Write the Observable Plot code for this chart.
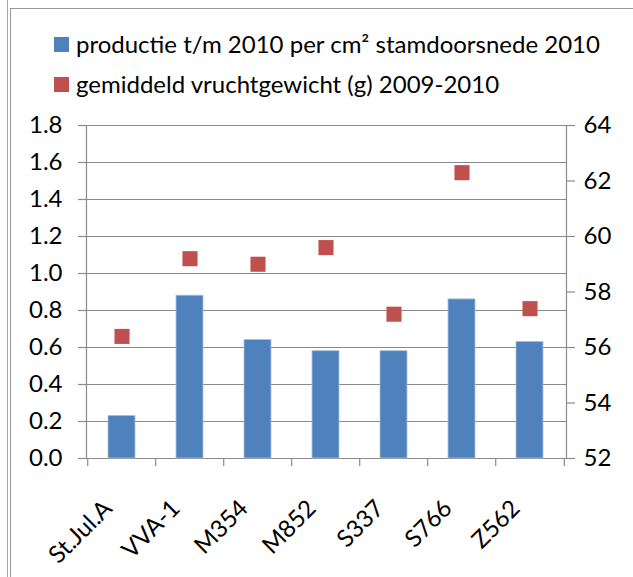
<!DOCTYPE html>
<html>
<head>
<meta charset="utf-8">
<script src="https://cdn.jsdelivr.net/npm/d3@7"></script>
<script src="https://cdn.jsdelivr.net/npm/@observablehq/plot@0.6"></script>
<style>
  html, body { margin: 0; padding: 0; background: #fff; }
  #wrap { position: relative; width: 633px; height: 577px; overflow: hidden; font-family: Lato, sans-serif; color: #000; }
  .vline { position: absolute; left: 7px; top: 0; width: 1px; height: 577px; background: #a6a6a6; }
  .box { position: absolute; left: 10px; top: 8px; width: 700px; height: 700px; border-left: 1px solid #999; border-top: 1px solid #999; }
  #legend { position: absolute; left: 0; top: 0; width: 633px; height: 100px; }
  .sw { position: absolute; width: 15px; height: 15px; }
  .lt { position: absolute; font-size: 24px; line-height: 24px; white-space: nowrap; }
  #chart { position: absolute; left: 0; top: 100px; }
  #chart svg { font-family: Lato, sans-serif; }
</style>
</head>
<body>
<div id="wrap">
  <div class="vline"></div>
  <div class="box"></div>
  <div id="legend"></div>
  <div id="chart"></div>
</div>
<script>
// ---- data ----
const categories = ["St.Jul.A", "VVA-1", "M354", "M852", "S337", "S766", "Z562"];
const production = [0.23, 0.88, 0.64, 0.58, 0.58, 0.86, 0.63];
const fruitWeight = [56.4, 59.2, 59.0, 59.6, 57.2, 62.3, 57.4];
const seriesNames = ["productie t/m 2010 per cm² stamdoorsnede 2010", "gemiddeld vruchtgewicht (g) 2009-2010"];
const leftTicks = [0, 0.2, 0.4, 0.6, 0.8, 1.0, 1.2, 1.4, 1.6, 1.8];
const rightTicks = [52, 54, 56, 58, 60, 62, 64];

const colors = ["#4F81BD", "#C0504D"];
const gray = "#8a8a8a";
const leftMax = 1.8, rMin = 52, rMax = 64;
const toLeft = v => (v - rMin) / (rMax - rMin) * leftMax;

const data = categories.map((c, i) => ({cat: c, prod: production[i], weight: fruitWeight[i]}));

// ---- legend ----
const legend = document.getElementById("legend");
seriesNames.forEach((name, i) => {
  const sw = document.createElement("div");
  sw.className = "sw";
  sw.style.left = "54px";
  sw.style.top = (37 + i * 40) + "px";
  sw.style.background = colors[i];
  legend.appendChild(sw);
  const t = document.createElement("div");
  t.className = "lt";
  t.style.left = "76px";
  t.style.top = (32 + i * 40) + "px";
  t.textContent = name;
  legend.appendChild(t);
});

// ---- chart ----
const W = 633, H = 477;
const mL = 86, mR = 67, mT = 25, mB = 119;
const step = (W - mL - mR) / categories.length;

const plot = Plot.plot({
  width: W,
  height: H,
  marginLeft: mL,
  marginRight: mR,
  marginTop: mT,
  marginBottom: mB,
  style: {fontSize: "24px", fontFamily: "Lato, sans-serif", color: "#000", background: "transparent"},
  x: {domain: categories, paddingInner: 0.6, paddingOuter: 0.3, axis: null, label: null},
  y: {domain: [0, leftMax], axis: null, label: null},
  marks: [
    Plot.gridY(leftTicks, {stroke: gray, strokeOpacity: 1, strokeWidth: 1.2}),
    Plot.frame({anchor: "left", stroke: gray, strokeWidth: 1.2}),
    Plot.frame({anchor: "right", stroke: gray, strokeWidth: 1.2}),
    // category-boundary tick marks below the axis
    Plot.axisX({tickSize: 8, tickFormat: () => "", label: null, stroke: gray, strokeWidth: 1.2, dx: -step / 2}),
    Plot.axisX({ticks: [categories[categories.length - 1]], tickSize: 8, tickFormat: () => "", label: null, stroke: gray, strokeWidth: 1.2, dx: step / 2}),
    // rotated category labels
    Plot.axisX({tickSize: 0, tickPadding: 46, tickRotate: -45, dx: -14, label: null, fontSize: 24, fill: "#000"}),
    // left axis
    Plot.axisY({ticks: leftTicks, tickSize: 8, tickPadding: 16, label: null, tickFormat: d3.format(".1f"), stroke: gray, strokeWidth: 1.2, fill: "#000", fontSize: 24}),
    // right axis (fruit weight), mapped onto the left scale
    Plot.axisY({anchor: "right", ticks: rightTicks.map(toLeft), tickSize: 8, tickPadding: 9, label: null, tickFormat: d => String(Math.round(rMin + d / leftMax * (rMax - rMin))), stroke: gray, strokeWidth: 1.2, fill: "#000", fontSize: 24}),
    Plot.barY(data, {x: "cat", y: "prod", fill: colors[0], stroke: "#a9c1e0", strokeWidth: 0.8}),
    Plot.dot(data, {x: "cat", y: d => toLeft(d.weight), symbol: "square", r: 8.5, fill: colors[1], stroke: "none"})
  ]
});
document.getElementById("chart").appendChild(plot);
</script>
</body>
</html>
